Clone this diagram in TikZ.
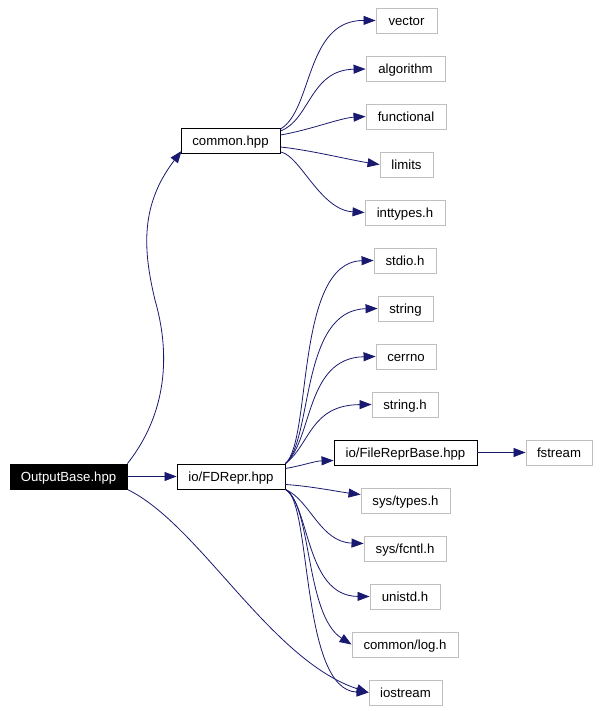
\documentclass[tikz,border=0pt]{standalone}
\usepackage{fontspec}
\setmainfont{Liberation Sans}
\usetikzlibrary{arrows.meta,calc}
\definecolor{edgecol}{HTML}{191970}
\definecolor{extgray}{HTML}{BFBFBF}
\begin{document}
\begin{tikzpicture}[x=1pt,y=-1pt,
  box/.style={draw=black,line width=0.9pt,minimum height=25pt,inner sep=0pt,text height=11.5pt,text depth=1.5pt,font=\fontsize{13.2}{15}\selectfont},
  ext/.style={box,draw=extgray},
  root/.style={box,fill=black,text=white},
  dep/.style={draw=edgecol,line width=0.8pt,-{Triangle[length=12pt,width=9pt]},color=edgecol}]
\useasboundingbox (0,0) rectangle (599,711);
% nodes
\node[root,minimum width=117pt] (ob) at (68.5,476.5) {OutputBase.hpp};
\node[box,minimum width=108pt] (fd) at (231,476.5) {io/FDRepr.hpp};
\node[box,minimum width=99pt] (cmn) at (230.5,141) {common.hpp};
\node[ext,minimum width=61pt] (vec) at (406.5,20.5) {vector};
\node[ext,minimum width=79pt] (alg) at (405.5,69) {algorithm};
\node[ext,minimum width=80pt] (fun) at (406,116.5) {functional};
\node[ext,minimum width=53pt] (lim) at (406.5,164.5) {limits};
\node[ext,minimum width=80pt] (intt) at (405,212.5) {inttypes.h};
\node[ext,minimum width=62pt] (stdio) at (405,260.5) {stdio.h};
\node[ext,minimum width=55pt] (str) at (405.5,308.5) {string};
\node[ext,minimum width=60pt] (cerr) at (406,356.5) {cerrno};
\node[ext,minimum width=66pt] (strh) at (405,404.5) {string.h};
\node[box,minimum width=143pt] (frb) at (405.5,452.5) {io/FileReprBase.hpp};
\node[ext,minimum width=66pt] (fs) at (559,452.5) {fstream};
\node[ext,minimum width=89pt] (st) at (405.5,500.5) {sys/types.h};
\node[ext,minimum width=82pt] (fc) at (405,548.5) {sys/fcntl.h};
\node[ext,minimum width=70pt] (un) at (405,596.5) {unistd.h};
\node[ext,minimum width=106pt] (log) at (405,644.5) {common/log.h};
\node[ext,minimum width=73pt] (ios) at (405.5,692.5) {iostream};
% edges from OutputBase
\draw[dep] (ob.north east) .. controls (158,425) and (175,370) .. (155,300)
  .. controls (143,250) and (140,205) .. ($(cmn.south west)+(1,-3)$);
\draw[dep] (ob.east) -- (fd.west);
\draw[dep] (ob.south east) .. controls (200,525) and (270,660) .. (ios.west);
% edges from common.hpp
\draw[dep] ($(cmn.east)+(0,-12)$) .. controls (313,110) and (305,20) .. (vec.west);
\draw[dep] ($(cmn.east)+(0,-10)$) .. controls (310,120) and (310,70) .. (alg.west);
\draw[dep] ($(cmn.east)+(0,-6)$) .. controls (310,130) and (340,118) .. (fun.west);
\draw[dep] ($(cmn.east)+(0,6)$) .. controls (310,150) and (350,160) .. (lim.west);
\draw[dep] ($(cmn.east)+(0,11)$) .. controls (300,155) and (320,210) .. (intt.west);
% edges from io/FDRepr.hpp
\draw[dep] (fd.north east) .. controls (312,440) and (295,262) .. (stdio.west);
\draw[dep] (fd.north east) .. controls (313,440) and (300,310) .. (str.west);
\draw[dep] (fd.north east) .. controls (313,440) and (305,358) .. (cerr.west);
\draw[dep] (fd.north east) .. controls (310,445) and (310,405) .. (strh.west);
\draw[dep] ($(fd.east)+(0,-8)$) .. controls (305,465) and (315,461) .. ($(frb.west)+(0,8)$);
\draw[dep] ($(fd.east)+(0,8)$) .. controls (310,486) and (340,492) .. ($(st.west)+(0,-6)$);
\draw[dep] (fd.south east) .. controls (310,500) and (320,542) .. ($(fc.west)+(0,-5)$);
\draw[dep] (fd.south east) .. controls (310,505) and (305,596) .. (un.west);
\draw[dep] (fd.south east) .. controls (312,505) and (305,615) .. (log.west);
\draw[dep] (fd.south east) .. controls (312,500) and (300,690) .. (ios.west);
% io/FileReprBase.hpp
\draw[dep] (frb.east) -- (fs.west);
\end{tikzpicture}
\end{document}
